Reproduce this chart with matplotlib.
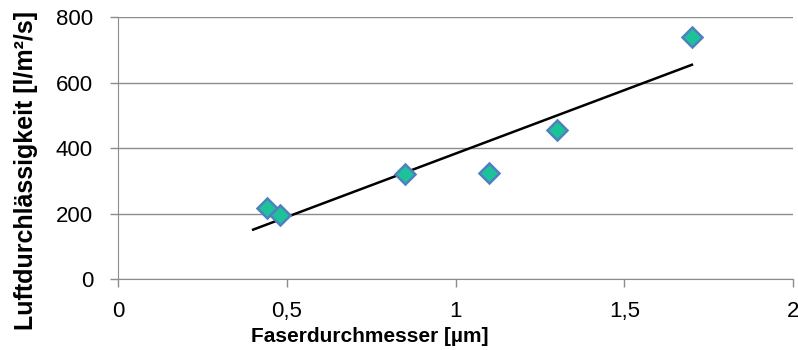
import matplotlib.pyplot as plt
import numpy as np

# Faserdurchmesser vs. Luftdurchlässigkeit
diameter = [0.44, 0.48, 0.85, 1.10, 1.30, 1.70]
permeability = [218, 195, 320, 323, 455, 738]
x_ticks = [0, 0.5, 1, 1.5, 2]
x_labels = ["0", "0,5", "1", "1,5", "2"]
y_ticks = [0, 200, 400, 600, 800]

plt.rcParams['font.family'] = ['Liberation Sans', 'DejaVu Sans']

fig = plt.figure(figsize=(7.98, 3.5), dpi=100)
ax = fig.add_axes([0.148, 0.203, 0.846, 0.748])

# linear trend line, starting at 0.4
slope, icpt = np.polyfit(diameter, permeability, 1)
tx = np.array([0.4, max(diameter)])
ax.plot(tx, slope * tx + icpt, color='black', lw=1.8, zorder=3)

ax.plot(diameter, permeability, linestyle='none', marker='D', ms=10,
        markerfacecolor='#1cc39a', markeredgecolor='#4f81bd', mew=1.8, zorder=4)

ax.set_xlim(0, 2)
ax.set_ylim(0, 800)
ax.set_xticks(x_ticks)
ax.set_xticklabels(x_labels)
ax.set_yticks(y_ticks)
ax.yaxis.grid(True, color='#8c8c8c', lw=1)
ax.set_axisbelow(True)

for s in ['top', 'right']:
    ax.spines[s].set_visible(False)
for s in ['left', 'bottom']:
    ax.spines[s].set_color('#8c8c8c')
ax.tick_params(axis='both', colors='#8c8c8c', labelcolor='black', labelsize=16,
               length=6, width=1, direction='out')
ax.tick_params(axis='x', pad=10)
ax.tick_params(axis='y', pad=12)

ax.set_xlabel("Faserdurchmesser [µm]", fontsize=15, fontweight='bold')
ax.xaxis.set_label_coords(0.373, -0.182)
ax.set_ylabel("Luftdurchlässigkeit [l/m²/s]", fontsize=18, fontweight='bold')
ax.yaxis.set_label_coords(-0.118, 0.416)

fig.savefig('out.png', dpi=100)
